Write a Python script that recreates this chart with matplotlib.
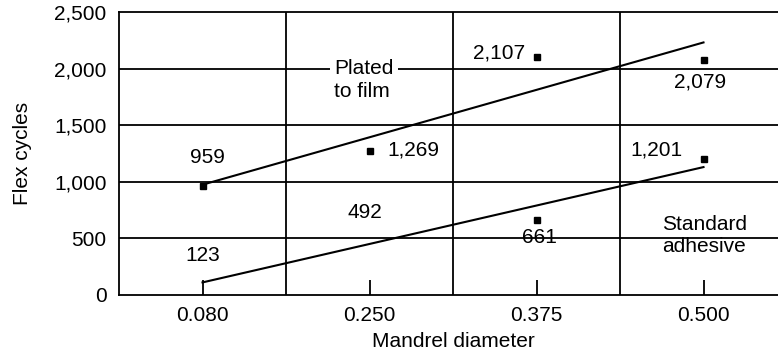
import numpy as np
import matplotlib
matplotlib.use("Agg")
import matplotlib.pyplot as plt

plt.rcParams['font.family'] = ['Liberation Sans', 'DejaVu Sans']

# data
diameters = ['0.080', '0.250', '0.375', '0.500']
plated = [959, 1269, 2107, 2079]
standard = [123, 492, 661, 1201]
y_ticks = [0, 500, 1000, 1500, 2000, 2500]

x = np.arange(len(diameters))

fig = plt.figure(figsize=(7.78, 3.56), dpi=100)
ax = fig.add_axes([119 / 778, 1 - 294.7 / 356, (787 - 119) / 778, (294.7 - 12.3) / 356])

# grid boxes
for yv in y_ticks[1:-1]:
    ax.axhline(yv, color='black', lw=1.3, zorder=1)
for xv in x[:-1] + 0.5:
    ax.axvline(xv, color='black', lw=1.3, zorder=1)

# trend lines
for series in (plated, standard):
    k, b = np.polyfit(x, series, 1)
    ax.plot([x[0], x[-1]], [b, b + k * x[-1]], color='black', lw=1.5, zorder=2)

# markers (first two standard points are not marked)
ax.plot(x, plated, 's', color='black', ms=5, ls='none', zorder=3)
ax.plot(x, standard, 's', color='black', ms=5, ls='none', markevery=[2, 3], zorder=3)

fs = 15
lbl = [f'{v:,}' for v in plated]
ax.text(0.03, 1219, lbl[0], ha='center', va='center', fontsize=fs)
ax.text(1.105, 1281, lbl[1], ha='left', va='center', fontsize=fs)
ax.text(1.93, 2140, lbl[2], ha='right', va='center', fontsize=fs)
ax.text(2.98, 1883, lbl[3], ha='center', va='center', fontsize=fs)

lbl = [f'{v:,}' for v in standard]
ax.text(0.0, 351, lbl[0], ha='center', va='center', fontsize=fs)
ax.text(0.97, 732, lbl[1], ha='center', va='center', fontsize=fs)
ax.text(2.015, 502, lbl[2], ha='center', va='center', fontsize=fs)
ax.text(2.72, 1281, lbl[3], ha='center', va='center', fontsize=fs)

ax.text(0.79, 2090, 'Plated\nto film', ha='left', va='top', fontsize=fs,
        linespacing=1.3, zorder=4,
        bbox=dict(facecolor='white', edgecolor='none', pad=3))
ax.text(2.75, 527, 'Standard\nadhesive', ha='left', va='center', fontsize=fs,
        linespacing=1.2, zorder=4)

ax.set_xlim(-0.5, len(diameters) - 0.5)
ax.set_ylim(0, 2500)
ax.set_xticks(x)
ax.set_xticklabels(diameters)
ax.set_yticks(y_ticks)
ax.set_yticklabels([f'{v:,}' for v in y_ticks])
ax.tick_params(axis='x', direction='in', length=11, width=1.3, pad=8, labelsize=fs)
ax.tick_params(axis='y', length=0, pad=9, labelsize=fs)
for s in ax.spines.values():
    s.set_linewidth(1.3)

ax.set_xlabel('Mandrel diameter', fontsize=fs, labelpad=5)
ax.set_ylabel('Flex cycles', fontsize=fs, labelpad=16)

fig.savefig('out.png', dpi=100)
